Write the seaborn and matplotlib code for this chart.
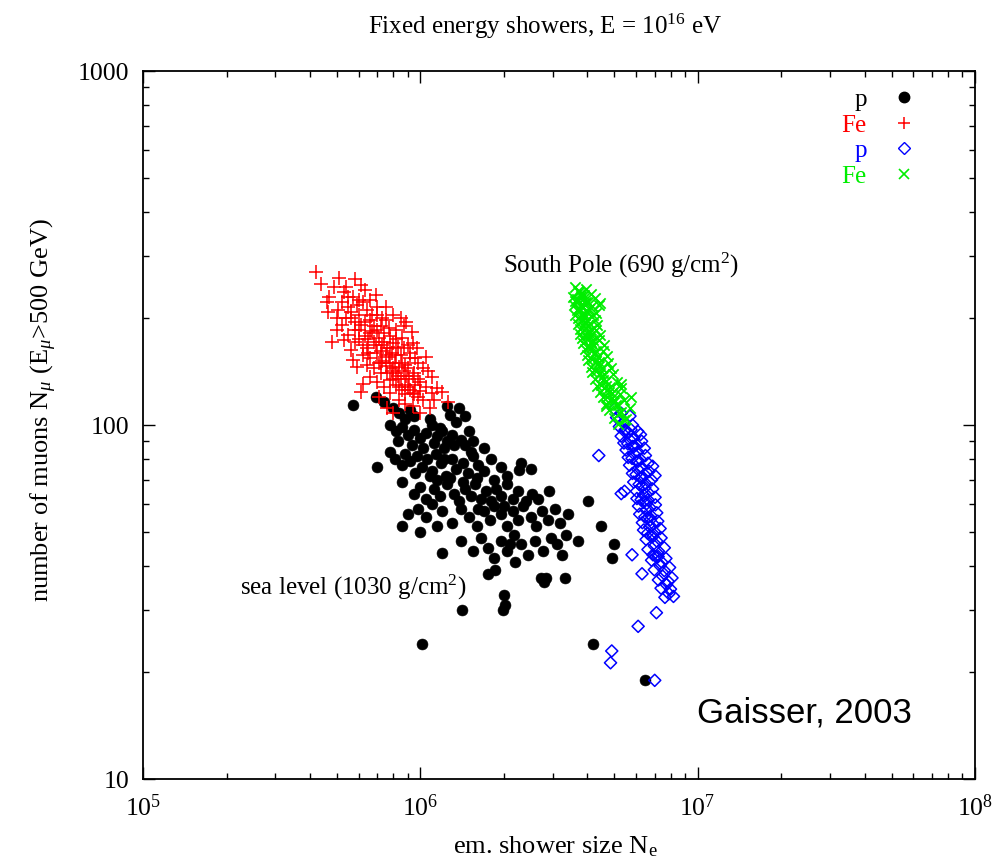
import numpy as np
import matplotlib
matplotlib.use("Agg")
import matplotlib.pyplot as plt
import seaborn as sns
from matplotlib.lines import Line2D
from matplotlib.ticker import LogLocator, NullFormatter

# ---- shower data: electron size N_e (in units of 1e6) and muon number N_mu ----
# proton showers, sea level
ne_p_sea = [0.57, 0.69, 0.74, 0.80, 0.84, 0.88, 0.92, 0.95, 1.28, 1.35, 1.18, 0.78, 0.82, 0.86, 0.90,
            0.95, 1.00, 1.05, 1.10, 1.15, 1.20, 1.25, 1.30, 1.40, 1.45, 1.50, 0.83, 0.93, 1.02, 1.12,
            1.22, 0.78, 0.81, 0.86, 0.88, 0.92, 0.97, 1.01, 1.06, 1.10, 1.14, 1.19, 1.24, 1.30, 1.35,
            1.42, 1.48, 1.55, 1.62, 1.70, 1.80, 1.95, 2.05, 0.70, 1.15, 1.28, 1.60, 2.30, 2.50, 0.86,
            0.95, 1.00, 1.05, 1.12, 1.18, 1.25, 1.32, 1.38, 1.45, 1.52, 1.58, 1.65, 1.72, 1.80, 1.88,
            1.95, 2.05, 2.15, 2.25, 2.40, 2.52, 2.65, 2.90, 1.42, 1.10, 0.90, 0.86, 1.00, 1.05, 1.20,
            1.30, 1.40, 1.50, 1.60, 1.70, 1.78, 1.85, 1.95, 2.05, 2.15, 2.25, 2.35, 2.50, 2.62, 2.75,
            2.88, 3.05, 3.20, 3.40, 2.00, 1.62, 1.40, 1.55, 1.65, 1.75, 1.85, 1.95, 2.05, 2.18, 2.30,
            2.45, 2.60, 2.78, 2.95, 3.10, 3.35, 3.70, 3.25, 4.50, 5.00, 4.90, 2.20, 2.10, 1.76, 1.86,
            2.72, 2.80, 2.85, 3.33, 1.41, 2.00, 2.02, 1.98, 1.01, 4.20, 4.03, 6.45, 1.08, 0.98, 1.15,
            1.20, 1.32, 1.08, 1.55, 1.70, 1.85, 2.26, 1.52, 1.22, 0.96, 1.38, 1.45, 1.25]
nmu_p_sea = [114, 120, 116, 112, 108, 104, 110, 106, 107, 102, 98, 100, 96, 99, 94,
             97, 92, 95, 100, 93, 96, 90, 94, 91, 88, 96, 90, 88, 86, 89,
             86, 84, 80, 77, 83, 79, 82, 76, 80, 74, 83, 78, 72, 80, 75,
             78, 73, 82, 77, 74, 80, 76, 72, 76, 70, 71, 71, 78, 75, 69,
             64, 67, 62, 66, 63, 68, 64, 61, 66, 63, 68, 62, 65, 61, 66,
             63, 68, 62, 65, 61, 64, 62, 65, 69, 60, 56, 52, 50, 55, 57,
             53, 58, 55, 52, 57, 54, 59, 56, 52, 57, 54, 59, 55, 52, 57,
             54, 58, 53, 56, 59, 58, 47, 44, 48, 45, 42, 47, 44, 49, 46,
             43, 47, 44, 48, 46, 49, 47, 43, 52, 46, 42, 41, 46, 38, 39,
             37, 36, 37, 37, 30, 33, 31, 30, 24, 24, 61, 19, 72, 58, 52,
             43.5, 88, 104, 90, 86, 70, 74.6, 84, 80, 73, 112, 106, 113]

# iron showers, sea level
ne_fe_sea = [0.42, 0.51, 0.54, 0.61, 0.69, 0.46, 0.465, 0.505, 0.62, 0.89, 0.48, 0.56, 0.59, 0.62, 0.61,
             0.94, 1.05, 1.10, 1.26, 1.10, 0.94, 0.71, 0.78, 0.53, 0.57, 0.55, 0.60, 0.64, 0.66, 0.70,
             0.72, 0.75, 0.58, 0.52, 0.50, 0.55, 0.60, 0.63, 0.67, 0.71, 0.74, 0.78, 0.82, 0.86, 0.90,
             0.80, 0.76, 0.69, 0.64, 0.58, 0.62, 0.66, 0.70, 0.73, 0.77, 0.81, 0.85, 0.88, 0.92, 0.98,
             1.02, 0.68, 0.72, 0.75, 0.79, 0.83, 0.87, 0.91, 0.95, 1.00, 1.05, 0.70, 0.74, 0.78, 0.82,
             0.86, 0.90, 0.94, 0.98, 1.02, 0.66, 0.84, 0.88, 1.15, 1.20, 1.08, 0.76, 0.80, 1.00, 0.56,
             0.50, 0.47, 0.66, 0.59, 0.75, 0.80, 0.85, 0.68, 0.53, 0.57, 0.64, 0.93, 0.97, 0.52, 0.49,
             0.58, 0.44, 0.63, 0.56, 0.61, 0.73, 0.79, 0.84, 0.89, 0.96, 1.12, 0.71, 0.65, 0.83, 0.87,
             0.77, 1.07,
             0.60, 0.62, 0.65, 0.68, 0.72, 0.75, 0.78, 0.80, 0.82, 0.85, 0.88, 0.92, 0.95, 0.72,
             0.76, 0.80, 0.84, 0.88, 0.66, 0.70, 0.74, 0.78, 0.82, 0.86, 0.90, 0.94, 0.98, 1.00,
             0.63, 0.67, 0.58, 0.54, 0.60, 0.55, 0.70, 0.73, 0.82, 0.87, 0.92, 0.96]
nmu_fe_sea = [270, 260, 246, 249, 233, 223, 209, 211, 223, 196, 172, 163, 146, 131, 124,
              171, 156, 137, 116, 123, 113, 120, 123, 238, 230, 215, 205, 212, 198, 205,
              190, 198, 195, 192, 185, 180, 185, 178, 184, 176, 182, 178, 185, 176, 168,
              170, 165, 168, 165, 172, 158, 155, 160, 152, 156, 150, 158, 148, 155, 150,
              145, 145, 140, 147, 142, 138, 142, 135, 140, 132, 128, 132, 128, 134, 130,
              126, 128, 123, 120, 118, 137, 118, 115, 127, 124, 112, 112, 108, 108, 200,
              200, 230, 226, 218, 215, 205, 200, 190, 174, 153, 148, 183, 165, 222, 245,
              258, 250, 240, 208, 192, 168, 160, 146, 138, 130, 118, 150, 175, 166, 190,
              188, 142,
              175, 168, 160, 172, 162, 158, 150, 145, 140, 135, 130, 126, 122, 150,
              140, 135, 128, 122, 182, 186, 172, 165, 158, 150, 145, 138, 135, 125,
              195, 205, 185, 200, 225, 230, 215, 200, 175, 165, 160, 155]

# proton showers, South Pole
ne_p_sp = [5.0, 5.3, 5.1, 5.42, 5.7, 5.22, 5.48, 5.82, 6.08, 5.3, 5.62, 5.88, 6.22,
           5.42, 5.68, 6.02, 6.28, 5.52, 5.82, 6.08, 6.42, 5.62, 5.88, 6.22, 6.48,
           5.68, 6.02, 6.28, 6.62, 6.88, 5.82, 6.08, 6.42, 6.68, 7.02, 5.88, 6.22, 6.48, 6.82,
           6.02, 6.28, 6.62, 6.88, 6.04, 6.38, 6.62, 7.02, 6.12, 6.38, 6.72, 7.04,
           6.18, 6.52, 6.78, 7.12, 6.32, 6.58, 6.92, 7.18, 6.38, 6.72, 6.98, 7.32,
           6.52, 6.78, 7.12, 7.38, 6.62, 6.98, 7.22, 7.58, 6.82, 7.08, 7.42, 7.68,
           6.98, 7.32, 7.58, 7.92, 7.22, 7.48, 7.82, 8.08, 7.38, 7.72, 7.98, 7.62, 7.88, 8.18,
           4.4, 5.3, 5.45, 5.8, 6.3, 7.1, 6.1, 4.9, 4.85, 7.0,
           5.45, 5.75, 5.6, 5.9, 5.8, 6.1, 6.0, 6.3, 6.15, 6.45, 6.25, 6.55, 6.45, 6.75,
           6.6, 6.9, 6.9, 7.2]
nmu_p_sp = [111, 108, 105, 102, 106, 99, 97, 100, 96, 93, 95, 92, 94,
            89, 91, 88, 90, 85, 87, 84, 86, 81, 83, 80, 82,
            77, 79, 76, 78, 76.5, 73, 75, 72.5, 74, 72, 69, 71, 68.5, 70,
            65, 67, 64.5, 66, 62, 63.5, 61.5, 62.5, 59, 60.5, 58.5, 59.5,
            56, 57.5, 55.5, 56.5, 53, 54.5, 52.5, 53.5, 50.5, 51.5, 50, 51,
            47.5, 48.5, 47, 48, 44.5, 45.5, 44, 45, 41.5, 42.5, 41, 42,
            39, 40, 38.8, 39.6, 36.5, 37.4, 36.2, 37, 34.6, 35.4, 34.4, 32.6, 33.4, 32.8,
            82, 64, 65, 43, 38, 29.5, 27, 23, 21.3, 19,
            96, 97, 88.5, 87, 80.5, 79, 72.5, 71, 68, 66.5, 61.5, 60, 55, 54,
            49.5, 48.5, 43, 42.5]

# iron showers, South Pole
ne_fe_sp = [3.62, 3.80, 3.95, 3.55, 3.73, 3.90, 4.12, 3.61, 3.79, 3.97, 4.25,
            3.57, 3.69, 3.86, 4.03, 4.40, 3.66, 3.81, 3.97, 4.16, 3.62, 3.76, 3.91, 4.07, 4.31,
            3.69, 3.83, 3.99, 4.21, 3.70, 3.89, 4.03, 4.26, 3.76, 3.91, 4.11, 4.34,
            3.77, 3.96, 4.13, 4.29, 3.83, 3.99, 4.19, 4.46, 3.86, 4.06, 4.21, 4.41,
            3.91, 4.11, 4.31, 4.59, 3.99, 4.14, 4.36, 4.54, 4.01, 4.23, 4.41, 4.71,
            4.11, 4.29, 4.51, 4.74, 4.17, 4.39, 4.61, 4.86, 4.26, 4.44, 4.69, 4.94,
            4.34, 4.56, 4.81, 5.11, 4.46, 4.67, 4.91, 5.29, 4.54, 4.79, 5.01, 5.24,
            4.66, 4.89, 5.16, 5.44, 4.79, 5.06, 5.31, 5.69, 5.01, 5.19, 5.51, 5.14, 5.41,
            4.46, 5.76, 5.30, 4.66,
            3.70, 3.88, 3.68, 3.92, 3.72, 4.00, 3.78, 3.94, 3.85, 4.05, 3.95,
            4.12, 4.05, 4.25, 4.15, 4.38, 4.30, 4.52, 4.50, 4.72, 4.72, 4.98]
nmu_fe_sp = [245, 236, 242, 230, 237, 229, 235, 224, 231, 222, 228,
             218, 225, 216, 223, 219, 212, 219, 210, 217, 205, 211, 204, 213, 207,
             200, 206, 198, 205, 193, 200, 192, 198, 187, 194, 186, 192,
             181, 188, 180, 186, 176, 182, 174, 180, 170, 176, 168, 174,
             164, 170, 162, 168, 158, 165, 156, 162, 153, 159, 151, 157,
             146, 152, 145, 150, 141, 147, 139, 145, 135, 140, 133, 139,
             129, 134, 128, 132, 124, 129, 123, 127, 120, 124, 118, 122,
             115, 119, 114, 118, 110, 114, 109, 112, 105, 108, 104, 101, 103,
             221, 120, 131, 113,
             239, 233, 227, 221, 214, 208, 202, 196, 190, 184, 177,
             172, 166, 160, 154, 149, 142, 137, 130, 126, 120, 116]

legend_labels = ["p", "Fe", "p", "Fe"]
series_colors = ["#000000", "#ff0000", "#0000ff", "#00ee00"]

sns.set_theme(style="ticks")
plt.rcParams["font.family"] = ["Liberation Serif", "DejaVu Serif"]
plt.rcParams["mathtext.fontset"] = "custom"
plt.rcParams["mathtext.rm"] = "Liberation Serif"
plt.rcParams["mathtext.it"] = "Liberation Serif:italic"
plt.rcParams["mathtext.bf"] = "Liberation Serif:bold"

fig = plt.figure(figsize=(9.96, 8.61), dpi=100)
ax = fig.add_axes([0.1436, 0.0952, 0.8353, 0.8223])

scale = 1e6
sns.scatterplot(x=np.array(ne_p_sea) * scale, y=nmu_p_sea, ax=ax, marker="o", s=62,
                color=series_colors[0], edgecolor=series_colors[0], linewidth=0.4, legend=False)
sns.scatterplot(x=np.array(ne_fe_sea) * scale, y=nmu_fe_sea, ax=ax, marker="+", s=90,
                color=series_colors[1], linewidth=1.1, legend=False)
sns.scatterplot(x=np.array(ne_p_sp) * scale, y=nmu_p_sp, ax=ax, marker="D", s=38,
                color=series_colors[2], linewidth=1.1, legend=False)
diamonds = ax.collections[-1]
diamonds.set_facecolor("none")
diamonds.set_edgecolor(series_colors[2])
sns.scatterplot(x=np.array(ne_fe_sp) * scale, y=nmu_fe_sp, ax=ax, marker="x", s=55,
                color=series_colors[3], linewidth=1.3, legend=False)

ax.set_xscale("log")
ax.set_yscale("log")
ax.set_xlim(1e5, 1e8)
ax.set_ylim(10, 1000)
ax.set_xticks([1e5, 1e6, 1e7, 1e8], labels=["$10^{5}$", "$10^{6}$", "$10^{7}$", "$10^{8}$"])
ax.set_yticks([10, 100, 1000], labels=["10", "100", "1000"])
ax.xaxis.set_minor_locator(LogLocator(base=10, subs=np.arange(2, 10), numticks=100))
ax.yaxis.set_minor_locator(LogLocator(base=10, subs=np.arange(2, 10), numticks=100))
ax.xaxis.set_minor_formatter(NullFormatter())
ax.yaxis.set_minor_formatter(NullFormatter())
ax.tick_params(which="both", direction="in", top=True, right=True, color="black", width=1.0)
ax.tick_params(which="major", length=8.5)
ax.tick_params(which="minor", length=4.5)
ax.tick_params(axis="x", which="major", labelsize=18.5, pad=11, labelcolor="black")
ax.tick_params(axis="y", which="major", labelsize=18.5, pad=10, labelcolor="black")
for sp in ax.spines.values():
    sp.set_color("black")
    sp.set_linewidth(1.3)
ax.grid(False)
ax.set_xlabel("")
ax.set_ylabel("")

fig.text(0.547, 1 - 26 / 861, "Fixed energy showers, E = 10$^{16}$ eV", ha="center", va="center",
         fontsize=18, color="black")
fig.text(0.558, 1 - 847 / 861, "em. shower size N$_\\mathrm{e}$", ha="center", va="center",
         fontsize=19, color="black")
fig.text(0.044, 1 - 410 / 861, "number of muons N$_\\mu$ (E$_\\mu$>500 GeV)", ha="center", va="center",
         rotation=90, fontsize=19, color="black")

ax.text(1.99e6, 283, "South Pole (690 g/cm$^2$)", fontsize=18, va="center", ha="left", color="black")
ax.text(1.47e6, 34.8, "sea level (1030 g/cm$^2$)", fontsize=18, va="center", ha="right", color="black")
ax.text(0.666, 0.093, "Gaisser, 2003", transform=ax.transAxes, fontsize=25, va="center", ha="left",
        family=["Liberation Sans", "DejaVu Sans"], color="black")

handles = [
    Line2D([], [], linestyle="none", marker="o", markersize=7.5, color=series_colors[0]),
    Line2D([], [], linestyle="none", marker="+", markersize=9, markeredgewidth=1.1, color=series_colors[1]),
    Line2D([], [], linestyle="none", marker="D", markersize=6, markeredgewidth=1.0,
           markerfacecolor="none", markeredgecolor=series_colors[2]),
    Line2D([], [], linestyle="none", marker="x", markersize=7, markeredgewidth=1.2, color=series_colors[3]),
]
leg = ax.legend(handles, legend_labels, loc="upper right", bbox_to_anchor=(0.930, 0.975),
                frameon=False, markerfirst=False, fontsize=18, handlelength=1.0,
                handletextpad=1.0, labelspacing=0.12, borderpad=0, borderaxespad=0)
for txt, c in zip(leg.get_texts(), series_colors):
    txt.set_color(c)

fig.savefig("out.png", dpi=100, facecolor="white")
